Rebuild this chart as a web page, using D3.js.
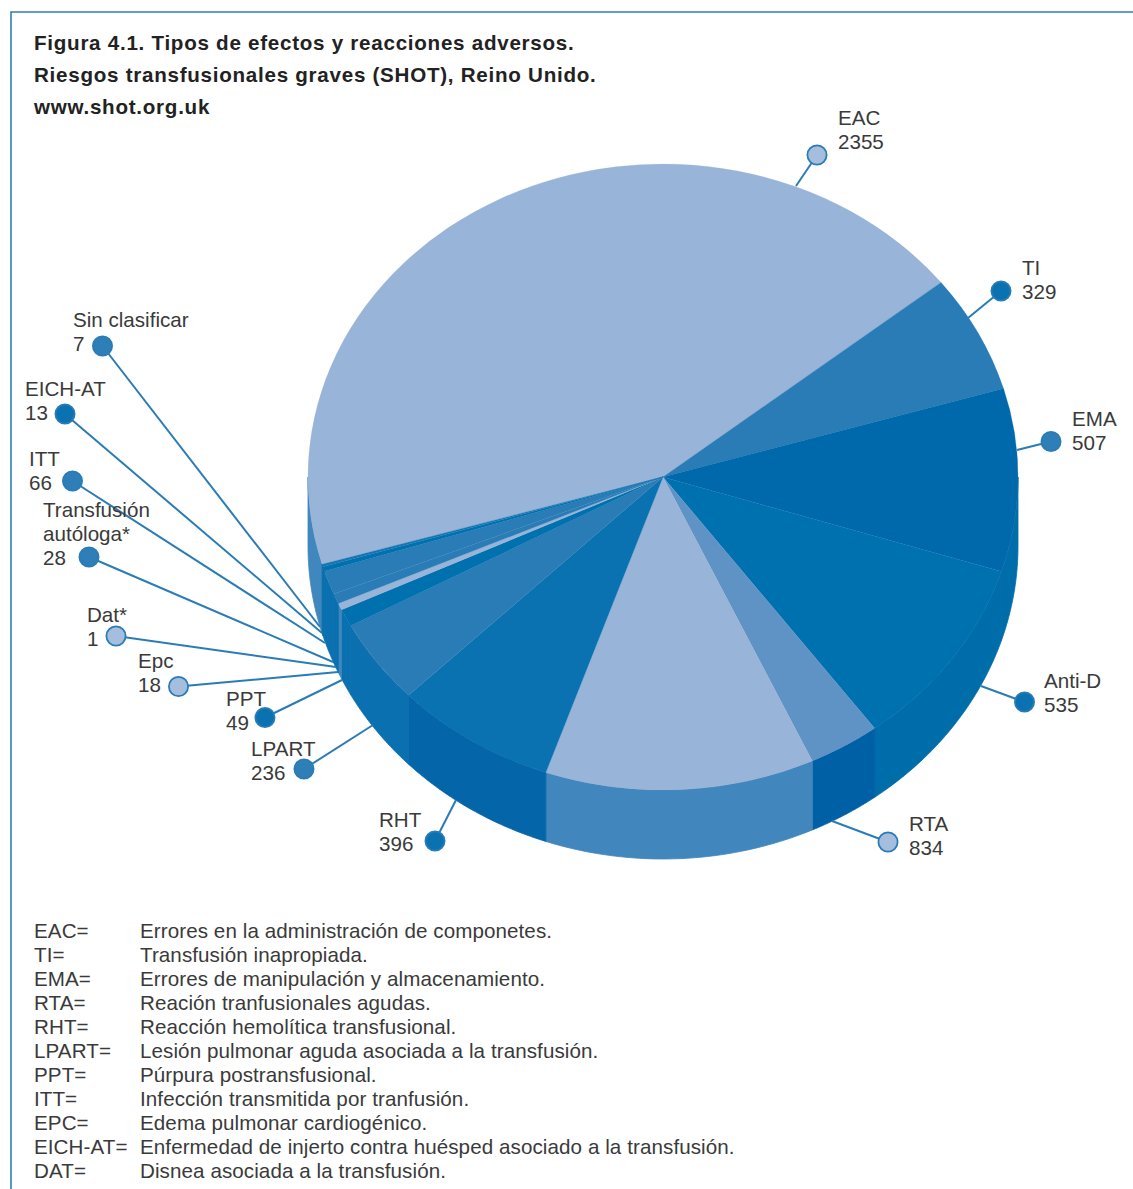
<!DOCTYPE html>
<html lang="es">
<head>
<meta charset="utf-8">
<title>Tipos de efectos y reacciones adversos</title>
<script src="https://cdn.jsdelivr.net/npm/d3@7/dist/d3.min.js"></script>
<style>
  html, body { margin: 0; padding: 0; background: #fff; }
  svg { display: block; }
  text { font-family: "Liberation Sans", Arial, sans-serif; fill: #3a3a3a; }
  .title { font-weight: 700; font-size: 20.6px; fill: #222; letter-spacing: 0.73px; }
  .label { font-size: 20.6px; }
  .legend { font-size: 20.6px; letter-spacing: 0.08px; }
</style>
</head>
<body>
<svg id="chart" width="1133" height="1189"></svg>
<script>
// Reported cases per category, clockwise from the largest slice
const categories = ["EAC", "TI", "EMA", "Anti-D", "RTA", "RHT", "LPART", "PPT", "Epc", "Dat*", "Transfusión autóloga*", "ITT", "EICH-AT", "Sin clasificar"];
const caseCounts = [2355, 329, 507, 535, 834, 396, 236, 49, 18, 1, 28, 66, 13, 7];
// RTA is printed in two tones; the two parts add up to its total
const rtaParts = [175, 659];

const titleLines = [
  "Figura 4.1. Tipos de efectos y reacciones adversos.",
  "Riesgos transfusionales graves (SHOT), Reino Unido.",
  "www.shot.org.uk"
];

const legendCodes = ["EAC=", "TI=", "EMA=", "RTA=", "RHT=", "LPART=", "PPT=", "ITT=", "EPC=", "EICH-AT=", "DAT="];
const legendMeanings = [
  "Errores en la administración de componetes.",
  "Transfusión inapropiada.",
  "Errores de manipulación y almacenamiento.",
  "Reación tranfusionales agudas.",
  "Reacción hemolítica transfusional.",
  "Lesión pulmonar aguda asociada a la transfusión.",
  "Púrpura postransfusional.",
  "Infección transmitida por tranfusión.",
  "Edema pulmonar cardiogénico.",
  "Enfermedad de injerto contra huésped asociado a la transfusión.",
  "Disnea asociada a la transfusión."
];

// Slice tones: top face and side wall
const LIGHT = "#98b4d8", MEDIUM = "#2a7cb6", DARK = "#0071af", DEEP = "#0069ab", MID = "#5f92c5";
const topColors = {
  "EAC": LIGHT, "TI": MEDIUM, "EMA": DEEP, "Anti-D": DARK, "RTA-a": MID, "RTA-b": LIGHT, "RHT": "#0a72b0",
  "LPART": MEDIUM, "PPT": DARK, "Epc": LIGHT, "Dat*": LIGHT, "Transfusión autóloga*": MEDIUM, "ITT": MEDIUM,
  "EICH-AT": DARK, "Sin clasificar": "#1676b2"
};
const wallColors = {
  "EAC": "#3f87bd", "EMA": "#006dab", "Anti-D": "#006dab", "RTA-a": "#0060a6", "RTA-b": "#4187bd", "RHT": "#0466a9",
  "LPART": "#0a70af", "PPT": "#0a70af", "Epc": "#3d87bc", "Dat*": "#3d87bc", "Transfusión autóloga*": "#0a70af", "ITT": "#0a70af",
  "EICH-AT": "#0a70af", "Sin clasificar": "#0a70af"
};

// Callout layout: dot, leader end on the pie, label anchor and dot tone
const callouts = [
  { name: "EAC", dot: [817, 155], end: [796, 186], text: [838, 124.5], lines: ["EAC"], tone: "light" },
  { name: "TI", dot: [1001, 291], end: [968, 318], text: [1022, 275], lines: ["TI"], tone: "dark" },
  { name: "EMA", dot: [1051, 441.5], end: [1017, 450], text: [1072, 425.5], lines: ["EMA"], tone: "medium" },
  { name: "Anti-D", dot: [1024.5, 702], end: [981, 686], text: [1044, 688], lines: ["Anti-D"], tone: "dark" },
  { name: "RTA", dot: [888, 842], end: [832, 821], text: [909, 831], lines: ["RTA"], tone: "light" },
  { name: "RHT", dot: [435, 841], end: [456, 800], text: [379, 827], lines: ["RHT"], tone: "dark" },
  { name: "LPART", dot: [304, 769], end: [373, 725], text: [251, 755.5], lines: ["LPART"], tone: "medium" },
  { name: "PPT", dot: [265, 717.5], end: [342, 680], text: [226, 705.5], lines: ["PPT"], tone: "dark" },
  { name: "Epc", dot: [178.5, 686.5], end: [338, 672], text: [138, 668], lines: ["Epc"], tone: "light" },
  { name: "Dat*", dot: [116, 636], end: [336, 667], text: [87, 621.5], lines: ["Dat*"], tone: "light" },
  { name: "Transfusión autóloga*", dot: [89, 557], end: [333, 662], text: [43, 517], lines: ["Transfusión", "autóloga*"], tone: "medium" },
  { name: "ITT", dot: [72.5, 481], end: [325, 643], text: [29, 466], lines: ["ITT"], tone: "medium" },
  { name: "EICH-AT", dot: [65, 414], end: [322, 633], text: [25, 396], lines: ["EICH-AT"], tone: "dark" },
  { name: "Sin clasificar", dot: [102.5, 346], end: [320, 627], text: [73, 327], lines: ["Sin clasificar"], tone: "medium" }
];
const toneFill = { light: "#a5bedd", medium: "#2e7fb8", dark: "#0a72b0" };

const svg = d3.select("#chart");

// Frame along the top and left of the figure
const frameColor = "#2e7fb8";
svg.append("path")
  .attr("d", "M11,1189V12H1133")
  .attr("fill", "none").attr("stroke", frameColor).attr("stroke-width", 1.6);

// Title
svg.append("g").selectAll("text").data(titleLines).join("text")
  .attr("class", "title").attr("x", 34).attr("y", (d, i) => 50 + i * 32).text(d => d);

// Pie geometry: an ellipse for the top face, extruded downward
const cx = 663, cy = 477, rx = 355, ry = 313, depth = 69;
const slices = categories.flatMap((name, i) => name === "RTA"
  ? [{ name: "RTA-a", value: rtaParts[0] }, { name: "RTA-b", value: rtaParts[1] }]
  : [{ name, value: caseCounts[i] }]);

const startAngle = 253.8 * Math.PI / 180;
const arcs = d3.pie().sort(null).value(d => d.value)
  .startAngle(startAngle).endAngle(startAngle + 2 * Math.PI)(slices);

const xAt = a => cx + rx * Math.sin(a);
const yAt = a => cy - ry * Math.cos(a);

// Side walls: only the part of each slice facing the viewer
const frontRanges = [[Math.PI / 2, 3 * Math.PI / 2], [5 * Math.PI / 2, 7 * Math.PI / 2]];
const wallLine = d3.line();
const wallLayer = svg.append("g");
arcs.forEach(arc => {
  frontRanges.forEach(([lo, hi]) => {
    const a0 = Math.max(arc.startAngle, lo), a1 = Math.min(arc.endAngle, hi);
    if (a1 <= a0) return;
    const steps = d3.range(0, 41).map(k => a0 + (a1 - a0) * k / 40);
    const upper = steps.map(a => [xAt(a), yAt(a)]);
    const lower = steps.slice().reverse().map(a => [xAt(a), yAt(a) + depth]);
    wallLayer.append("path")
      .attr("d", wallLine(upper.concat(lower)) + "Z")
      .attr("fill", wallColors[arc.data.name])
      .attr("stroke", wallColors[arc.data.name]).attr("stroke-width", 0.8);
  });
});

// Top face: circular arcs squashed to the ellipse
const topArc = d3.arc().innerRadius(0).outerRadius(rx);
svg.append("g")
  .attr("transform", `translate(${cx},${cy}) scale(1,${ry / rx})`)
  .selectAll("path").data(arcs).join("path")
  .attr("d", topArc)
  .attr("fill", d => topColors[d.data.name])
  .attr("stroke", d => topColors[d.data.name]).attr("stroke-width", 0.3);

// Leader lines and dots
const leaders = svg.append("g");
leaders.selectAll("line").data(callouts).join("line")
  .attr("x1", d => d.dot[0]).attr("y1", d => d.dot[1])
  .attr("x2", d => d.end[0]).attr("y2", d => d.end[1])
  .attr("stroke", "#2a7cb6").attr("stroke-width", 2);
leaders.selectAll("circle").data(callouts).join("circle")
  .attr("cx", d => d.dot[0]).attr("cy", d => d.dot[1]).attr("r", 9.6)
  .attr("fill", d => toneFill[d.tone])
  .attr("stroke", "#2a7cb6").attr("stroke-width", 1.8);

// Callout labels: name lines, then the count
const countOf = name => caseCounts[categories.indexOf(name)];
const labels = svg.append("g");
callouts.forEach(c => {
  const rows = c.lines.concat(String(countOf(c.name)));
  rows.forEach((row, i) => {
    labels.append("text").attr("class", "label")
      .attr("x", c.text[0]).attr("y", c.text[1] + i * 24).text(row);
  });
});

// Abbreviation key
const key = svg.append("g");
legendCodes.forEach((code, i) => {
  const y = 938 + i * 24;
  key.append("text").attr("class", "legend").attr("x", 34).attr("y", y).text(code);
  key.append("text").attr("class", "legend").attr("x", 140).attr("y", y).text(legendMeanings[i]);
});
</script>
</body>
</html>
